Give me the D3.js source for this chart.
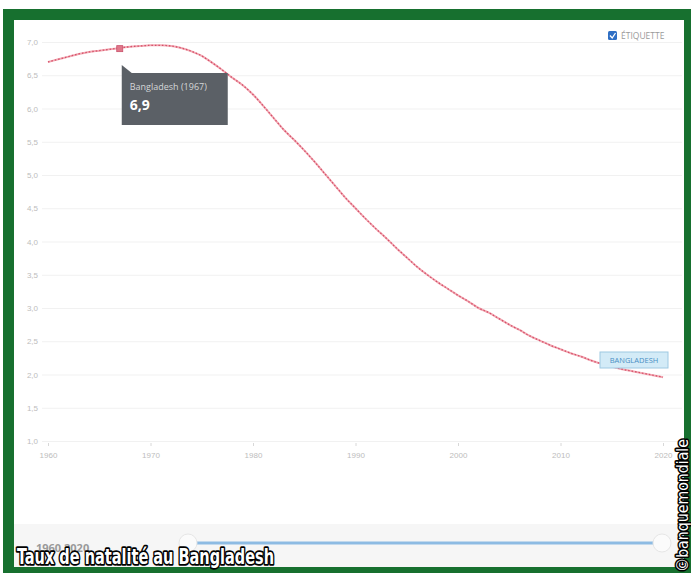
<!DOCTYPE html>
<html>
<head>
<meta charset="utf-8">
<script src="https://cdn.jsdelivr.net/npm/d3@7"></script>
<style>
    body { margin: 0; background: #fff; }
    svg { display: block; font-family: 'Open Sans', sans-serif; }
    .halo { fill: #fff; stroke: #000; stroke-linejoin: round; paint-order: stroke; }
</style>
</head>
<body>
<svg id="chart" width="691" height="573"></svg>
<script>
// Fertility rate, Bangladesh
const years = d3.range(1960, 2021);
const values = [
    6.70, 6.74, 6.78, 6.82, 6.85, 6.87, 6.89, 6.91, 6.93, 6.94,
    6.95, 6.95, 6.94, 6.91, 6.86, 6.79, 6.69, 6.58, 6.46, 6.35,
    6.21, 6.04, 5.86, 5.68, 5.53, 5.37, 5.20, 5.02, 4.84, 4.66,
    4.50, 4.34, 4.19, 4.05, 3.90, 3.76, 3.62, 3.50, 3.39, 3.29,
    3.19, 3.10, 3.00, 2.93, 2.84, 2.75, 2.67, 2.58, 2.51, 2.44,
    2.38, 2.32, 2.27, 2.21, 2.16, 2.12, 2.08, 2.05, 2.02, 1.99,
    1.96
];
const yTicks = [1.0, 1.5, 2.0, 2.5, 3.0, 3.5, 4.0, 4.5, 5.0, 5.5, 6.0, 6.5, 7.0];
const xTicks = [1960, 1970, 1980, 1990, 2000, 2010, 2020];
const tipYear = 1967;
const tipValue = 6.9;
const seriesName = 'Bangladesh';
const rangeLabels = ['1960', '2020'];

const svg = d3.select('#chart');
const fmt = d3.format('.1f');
const comma = v => fmt(v).replace('.', ',');

// Green frame
svg.append('rect').attr('x', 3).attr('y', 9).attr('width', 688).attr('height', 564).attr('fill', '#17702f');
svg.append('rect').attr('x', 14).attr('y', 20).attr('width', 670).attr('height', 547).attr('fill', '#fff');

const x = d3.scaleLinear().domain([1960, 2020]).range([48, 663]);
const y = d3.scaleLinear().domain([1.0, 7.0]).range([441, 42]);

// Grid + y labels
const yAxis = d3.axisLeft(y).tickValues(yTicks).tickSize(-640).tickFormat(comma);
const gy = svg.append('g').attr('transform', 'translate(42,0)').call(yAxis);
gy.select('.domain').remove();
gy.selectAll('.tick line').attr('stroke', '#f1f1f1');
gy.selectAll('.tick text').attr('x', -4).attr('fill', '#bdbdbd').attr('font-size', 8);

// x labels
const xAxis = d3.axisBottom(x).tickValues(xTicks).tickSize(3).tickFormat(d3.format('d'));
const gx = svg.append('g').attr('transform', 'translate(0,443)').call(xAxis);
gx.select('.domain').remove();
gx.selectAll('.tick line').attr('stroke', '#d8d8d8');
gx.selectAll('.tick text').attr('y', 9).attr('fill', '#bdbdbd').attr('font-size', 8);

// Line
const line = d3.line()
    .x((d, i) => x(years[i]))
    .y(d => y(d))
    .curve(d3.curveMonotoneX);

svg.append('path')
    .datum(values)
    .attr('fill', 'none')
    .attr('stroke', '#f2a9b3')
    .attr('stroke-width', 2)
    .attr('d', line);
svg.append('path')
    .datum(values)
    .attr('fill', 'none')
    .attr('stroke', '#d5506a')
    .attr('stroke-width', 1.3)
    .attr('stroke-dasharray', '1.5,2')
    .attr('d', line);

// Highlighted point
svg.append('rect')
    .attr('x', x(tipYear) - 3).attr('y', y(tipValue) - 3)
    .attr('width', 6).attr('height', 6)
    .attr('fill', '#e0788a').attr('stroke', '#c9506a').attr('stroke-width', 0.8);

// Tooltip
const tx = x(tipYear) + 2, ty = 73;
svg.append('path')
    .attr('d', `M${tx},${ty - 8} L${tx},${ty} L${tx + 10},${ty} Z`)
    .attr('fill', '#5b6066');
svg.append('rect')
    .attr('x', tx).attr('y', ty).attr('width', 106).attr('height', 52)
    .attr('fill', '#5b6066');
svg.append('text')
    .attr('x', tx + 8).attr('y', ty + 17)
    .attr('fill', '#d4d6d8').attr('font-size', 9)
    .text(`${seriesName} (${tipYear})`);
svg.append('text')
    .attr('x', tx + 8).attr('y', ty + 37)
    .attr('fill', '#fff').attr('font-size', 14).attr('font-weight', 'bold')
    .text(comma(tipValue));

// End label
const lx = 600, ly = 352;
svg.append('rect')
    .attr('x', lx).attr('y', ly).attr('width', 68).attr('height', 16)
    .attr('fill', '#d3ebf7').attr('stroke', '#9ec9e2').attr('stroke-width', 1);
svg.append('text')
    .attr('x', lx + 34).attr('y', ly + 11).attr('text-anchor', 'middle')
    .attr('fill', '#4a8fc4').attr('font-size', 7.5)
    .text(seriesName.toUpperCase());

// Checkbox legend
svg.append('rect')
    .attr('x', 608).attr('y', 31).attr('width', 9).attr('height', 9).attr('rx', 1.5)
    .attr('fill', '#2f6fc4');
svg.append('path')
    .attr('d', 'M610,35.5 L612.2,38 L615.5,33')
    .attr('fill', 'none').attr('stroke', '#fff').attr('stroke-width', 1.3);
svg.append('text')
    .attr('x', 621).attr('y', 39)
    .attr('fill', '#9a9a9a').attr('font-size', 8.5)
    .text('ÉTIQUETTE');

// Range slider
svg.append('rect').attr('x', 14).attr('y', 524).attr('width', 670).attr('height', 43).attr('fill', '#f6f6f6');
svg.append('line')
    .attr('x1', 195).attr('x2', 655).attr('y1', 543).attr('y2', 543)
    .attr('stroke', '#8dbbe3').attr('stroke-width', 3);
[188, 662].forEach(cx => {
    svg.append('circle').attr('cx', cx).attr('cy', 543).attr('r', 9)
        .attr('fill', '#fbfbfb').attr('stroke', '#e6e6e6');
});
svg.append('text')
    .attr('x', 36).attr('y', 552)
    .attr('fill', '#9a9a9a').attr('font-size', 11).attr('font-weight', 'bold')
    .text(rangeLabels.join('  '));

// Overlay captions
svg.append('text')
    .attr('class', 'halo')
    .attr('x', 17).attr('y', 564)
    .attr('font-family', "'Liberation Sans Narrow', 'DejaVu Sans Condensed', sans-serif")
    .attr('font-weight', 'bold').attr('font-size', 21)
    .attr('stroke-width', 3.5)
    .attr('textLength', 257).attr('lengthAdjust', 'spacingAndGlyphs')
    .text('Taux de natalité au  Bangladesh');

svg.append('text')
    .attr('class', 'halo')
    .attr('transform', 'translate(688,572) rotate(-90)')
    .attr('font-family', "'Liberation Sans Narrow', 'DejaVu Sans Condensed', sans-serif")
    .attr('font-size', 15)
    .attr('stroke-width', 3)
    .attr('textLength', 133).attr('lengthAdjust', 'spacingAndGlyphs')
    .text('©banquemondiale');
</script>
</body>
</html>
